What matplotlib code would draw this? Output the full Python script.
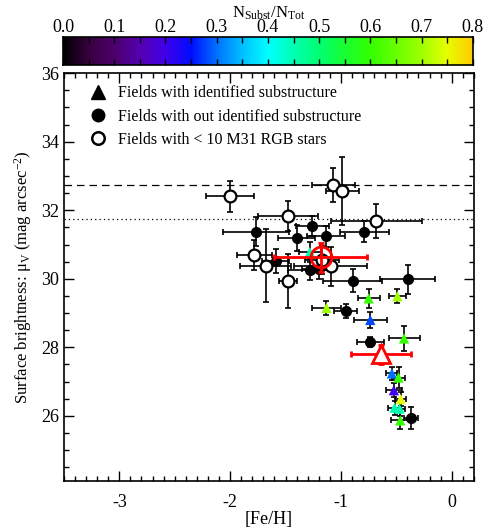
import numpy as np
import matplotlib
matplotlib.use("Agg")
import matplotlib.pyplot as plt
from matplotlib.colors import LinearSegmentedColormap, Normalize
from matplotlib.lines import Line2D
from matplotlib.ticker import MultipleLocator, FormatStrFormatter, FuncFormatter

plt.rcParams['font.family'] = ['Liberation Serif', 'DejaVu Serif']
plt.rcParams['mathtext.fontset'] = 'custom'
plt.rcParams['mathtext.rm'] = 'Liberation Serif'
plt.rcParams['mathtext.it'] = 'Liberation Serif:italic'

# Fields with identified substructure: [Fe/H], mu_V, errors, substructure fraction
tri_feh = [-1.28, -0.75, -0.49, -1.13, -0.735, -0.43, -0.54, -0.48, -0.522, -0.46, -0.516, -0.47, -0.464]
tri_mu = [30.78, 29.43, 29.49, 29.15, 28.80, 28.26, 27.24, 27.12, 26.75, 26.49, 26.24, 26.21, 25.87]
tri_feh_err = [0.10, 0.10, 0.08, 0.13, 0.15, 0.14, 0.05, 0.06, 0.07, 0.05, 0.06, 0.05, 0.08]
tri_mu_err = [0.30, 0.27, 0.20, 0.20, 0.23, 0.37, 0.20, 0.30, 0.20, 0.20, 0.20, 0.20, 0.25]
tri_frac = [0.45, 0.60, 0.70, 0.70, 0.28, 0.60, 0.30, 0.60, 0.20, 0.75, 0.45, 0.45, 0.60]

# Fields without identified substructure
fill_feh = [-1.765, -1.257, -1.40, -1.133, -0.79, -1.59, -1.28, -1.20, -0.895, -0.398, -0.958, -0.733, -0.366]
fill_mu = [31.38, 31.54, 31.19, 31.24, 31.38, 30.53, 30.27, 30.30, 29.95, 29.98, 29.07, 28.15, 25.93]
fill_feh_err = [0.30, 0.15, 0.17, 0.17, 0.22, 0.12, 0.20, 0.15, 0.27, 0.25, 0.10, 0.12, 0.06]
fill_mu_err = [0.43, 0.30, 0.39, 0.30, 0.30, 0.35, 0.30, 0.30, 0.33, 0.43, 0.20, 0.15, 0.32]

# Fields with fewer than 10 M31 RGB stars
open_feh = [-2.00, -1.067, -0.989, -1.476, -0.681, -1.78, -1.68, -1.48, -1.09, -1.17]
open_mu = [32.41, 32.73, 32.56, 31.83, 31.68, 30.70, 30.38, 29.93, 30.36, 30.55]
open_feh_err = [0.22, 0.19, 0.15, 0.27, 0.41, 0.16, 0.23, 0.08, 0.33, 0.15]
open_mu_err = [0.45, 0.50, 1.00, 0.44, 0.50, 0.44, 1.07, 0.78, 0.56, 0.40]

# Mean values of the two populations
mean_circ = (-1.184, 30.63, 0.42, 0.42)
mean_tri = (-0.636, 27.80, 0.27, 0.28)

# Reference surface-brightness levels
mu_dashed = 32.75
mu_dotted = 31.75

cmap = LinearSegmentedColormap.from_list("idl", [
    (0.000, (0.00, 0.00, 0.00)),
    (0.0625, (0.22, 0.00, 0.25)),
    (0.125, (0.30, 0.00, 0.42)),
    (0.1875, (0.33, 0.00, 0.70)),
    (0.250, (0.25, 0.00, 0.92)),
    (0.3125, (0.00, 0.05, 1.00)),
    (0.375, (0.00, 0.45, 1.00)),
    (0.4375, (0.00, 0.75, 1.00)),
    (0.500, (0.00, 1.00, 1.00)),
    (0.5625, (0.00, 1.00, 0.70)),
    (0.625, (0.00, 1.00, 0.45)),
    (0.6875, (0.10, 1.00, 0.20)),
    (0.750, (0.20, 1.00, 0.00)),
    (0.8125, (0.40, 1.00, 0.00)),
    (0.875, (0.62, 1.00, 0.00)),
    (0.9375, (0.90, 1.00, 0.00)),
    (1.000, (1.00, 0.80, 0.00)),
])
norm = Normalize(0.0, 0.8)

fig = plt.figure(figsize=(4.88, 5.29), dpi=100)
ax = fig.add_axes([0.131, 0.0907, 0.840, 0.771])
cax = fig.add_axes([0.129, 0.877, 0.840, 0.053])

eb = dict(fmt='none', ecolor='black', elinewidth=1.2, capsize=2.2, capthick=1.2, zorder=2)

ax.axhline(mu_dashed, color='black', ls=(0, (6, 4)), lw=0.9, zorder=1)
ax.axhline(mu_dotted, color='black', ls=(0, (1, 2.5)), lw=0.9, zorder=1)

ax.errorbar(open_feh, open_mu, xerr=open_feh_err, yerr=open_mu_err, **eb)
ax.errorbar(fill_feh, fill_mu, xerr=fill_feh_err, yerr=fill_mu_err, **eb)
ax.errorbar(tri_feh, tri_mu, xerr=tri_feh_err, yerr=tri_mu_err, **eb)

ax.plot(open_feh, open_mu, 'o', ms=8.5, mfc='white', mec='black', mew=1.6, zorder=3)
ax.plot(fill_feh, fill_mu, 'o', ms=7, mfc='black', mec='black', zorder=3)
ax.scatter(tri_feh, tri_mu, c=tri_frac, cmap=cmap, norm=norm, marker='^', s=55,
           edgecolors='none', zorder=4)

red = '#ff0000'
ax.errorbar([mean_circ[0]], [mean_circ[1]], xerr=[mean_circ[2]], yerr=[mean_circ[3]],
            fmt='o', ms=15, mfc='none', mec=red, mew=2.0, ecolor=red, elinewidth=2,
            capsize=2.5, capthick=2, zorder=5)
ax.errorbar([mean_tri[0]], [mean_tri[1]], xerr=[mean_tri[2]], yerr=[mean_tri[3]],
            fmt='^', ms=13, mfc='white', mec=red, mew=2.0, ecolor=red, elinewidth=2,
            capsize=2.5, capthick=2, zorder=5)

ax.set_xlim(-3.5, 0.2)
ax.set_ylim(24.1, 36.0)
ax.xaxis.set_major_locator(MultipleLocator(1))
ax.xaxis.set_minor_locator(MultipleLocator(0.1))
ax.yaxis.set_major_locator(MultipleLocator(2))
ax.yaxis.set_minor_locator(MultipleLocator(0.5))
ax.tick_params(which='both', direction='in', top=True, right=True, labelsize=13, width=1)
ax.tick_params(which='major', length=7)
ax.tick_params(which='minor', length=3.5)
ax.tick_params(axis='x', pad=9)
for s in ax.spines.values():
    s.set_linewidth(1.2)
ax.xaxis.set_major_formatter(FuncFormatter(lambda v, p: f"{v:.0f}"))
ax.set_xlabel('[Fe/H]', fontsize=13, labelpad=0)
ax.set_ylabel(r'Surface brightness: $\mathrm{\mu_V}$ (mag arcsec$^{\mathrm{-2}}$)', fontsize=12, labelpad=5)

handles = [
    Line2D([], [], ls='none', marker='^', ms=10, mfc='black', mec='black'),
    Line2D([], [], ls='none', marker='o', ms=9, mfc='black', mec='black'),
    Line2D([], [], ls='none', marker='o', ms=9, mfc='white', mec='black', mew=1.8),
]
labels = ['Fields with identified substructure',
          'Fields with out identified substructure',
          'Fields with < 10 M31 RGB stars']
ax.legend(handles, labels, loc='upper left', frameon=False, fontsize=11.5,
          handletextpad=0.55, borderaxespad=0.5, labelspacing=0.45, handlelength=1.5,
          bbox_to_anchor=(0.018, 1.005))

# Colour bar
grad = np.linspace(0, 0.8, 512).reshape(1, -1)
cax.imshow(grad, aspect='auto', cmap=cmap, norm=norm, extent=[0, 0.8, 0, 1])
cax.set_xlim(0, 0.8)
cax.set_ylim(0, 1)
cax.set_yticks([])
cax.xaxis.set_major_locator(MultipleLocator(0.1))
cax.xaxis.set_minor_locator(MultipleLocator(0.05))
cax.xaxis.set_major_formatter(FormatStrFormatter('%.1f'))
cax.tick_params(which='both', direction='in', top=True, bottom=True, labeltop=True,
                labelbottom=False, length=4, width=1, labelsize=13, pad=1)
for s in cax.spines.values():
    s.set_linewidth(1.2)
fig.text(0.55, 0.975, r'N$_{\mathrm{Subst}}$/N$_{\mathrm{Tot}}$', fontsize=12,
         ha='center', va='center')

fig.savefig('out.png', dpi=100)
